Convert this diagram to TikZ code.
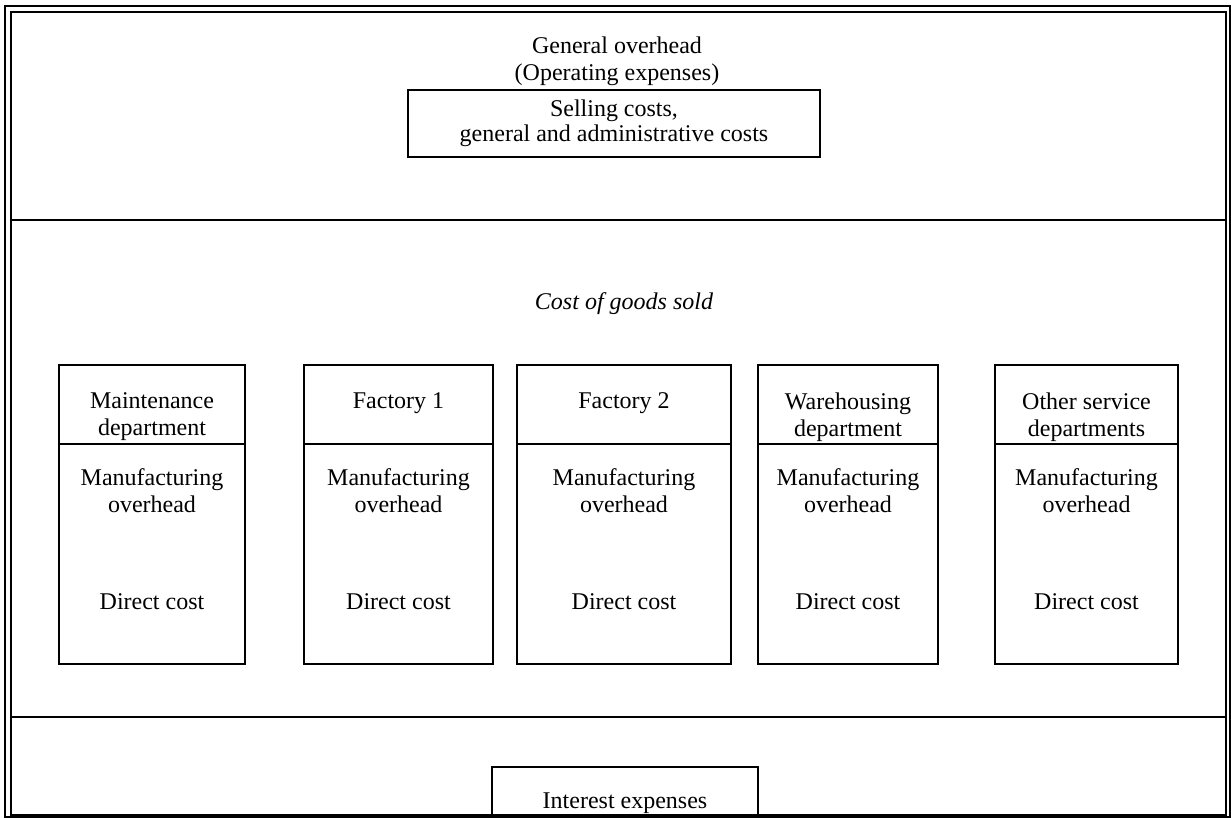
\documentclass[tikz,border=0pt]{standalone}
\usepackage{fontspec}
\setmainfont{Liberation Serif}
\usetikzlibrary{positioning,calc}
\tikzset{
  frame line/.style={line width=1pt},
  cost box/.style={
    draw,
    line width=0.9pt,
    inner sep=0pt,
    outer sep=0pt,
  },
  dept head/.style={cost box, anchor=north west, minimum height=39.5pt},
  dept body/.style={cost box, minimum height=110pt},
  box text/.style={
    align=center,
    inner sep=0pt,
    font=\fontsize{12}{13.5}\selectfont,
  },
}

\begin{document}
\begin{tikzpicture}[x=0.5pt,y=-0.5pt]
  \useasboundingbox (0,0) rectangle (1231,819);

  % double frame and the three bands
  \draw[line width=0.6pt] (5,6) rectangle (1230,817);
  \draw[frame line] (11,12) rectangle (1226,815);
  \coordinate (topw) at (11,220);
  \coordinate (tope) at (1226,220);
  \coordinate (botw) at (11,717);
  \coordinate (bote) at (1226,717);
  \draw[frame line] (topw) -- (tope);
  \draw[frame line] (botw) -- (bote);

  % general overhead
  \node[box text,anchor=north] (title) at (617,36) {General overhead\\(Operating expenses)};
  \node[cost box,box text,font=\fontsize{12}{12.5}\selectfont,minimum width=206pt,minimum height=33.5pt] (sga) at (614,123.5)
    {Selling costs,\\general and administrative costs};

  % cost of goods sold
  \node[box text,font=\fontsize{12}{13.5}\selectfont\itshape] (cogs) at (624,304) {Cost of goods sold};

  \node[dept head,minimum width=93pt] (hd1) at (59,365) {};
  \node[dept head,minimum width=94.5pt] (hd2) at (304,365) {};
  \node[dept head,minimum width=107pt] (hd3) at (517,365) {};
  \node[dept head,minimum width=90pt] (hd4) at (758,365) {};
  \node[dept head,minimum width=91.5pt] (hd5) at (995,365) {};

  \node[dept body,minimum width=93pt,below=0pt of hd1] (bd1) {};
  \node[dept body,minimum width=94.5pt,below=0pt of hd2] (bd2) {};
  \node[dept body,minimum width=107pt,below=0pt of hd3] (bd3) {};
  \node[dept body,minimum width=90pt,below=0pt of hd4] (bd4) {};
  \node[dept body,minimum width=91.5pt,below=0pt of hd5] (bd5) {};

  \node[box text,anchor=north] (ht1) at ($(hd1.north)+(0,27)$) {Maintenance\\department};
  \node[box text,anchor=north] (ht2) at ($(hd2.north)+(0,27)$) {Factory 1};
  \node[box text,anchor=north] (ht3) at ($(hd3.north)+(0,27)$) {Factory 2};
  \node[box text,anchor=north] (ht4) at ($(hd4.north)+(0,27)$) {Warehousing\\department};
  \node[box text,anchor=north] (ht5) at ($(hd5.north)+(0,27)$) {Other service\\departments};

  \node[box text,anchor=north] (mo1) at ($(bd1.north)+(0,24)$) {Manufacturing\\overhead};
  \node[box text,anchor=north] (mo2) at ($(bd2.north)+(0,24)$) {Manufacturing\\overhead};
  \node[box text,anchor=north] (mo3) at ($(bd3.north)+(0,24)$) {Manufacturing\\overhead};
  \node[box text,anchor=north] (mo4) at ($(bd4.north)+(0,24)$) {Manufacturing\\overhead};
  \node[box text,anchor=north] (mo5) at ($(bd5.north)+(0,24)$) {Manufacturing\\overhead};

  \node[box text,anchor=north] (dc1) at ($(bd1.north)+(0,149)$) {Direct cost};
  \node[box text,anchor=north] (dc2) at ($(bd2.north)+(0,149)$) {Direct cost};
  \node[box text,anchor=north] (dc3) at ($(bd3.north)+(0,149)$) {Direct cost};
  \node[box text,anchor=north] (dc4) at ($(bd4.north)+(0,149)$) {Direct cost};
  \node[box text,anchor=north] (dc5) at ($(bd5.north)+(0,149)$) {Direct cost};

  % interest
  \node[cost box,anchor=south,minimum width=133pt,minimum height=24pt] (intbox) at (625,815) {};
  \node[box text] (inttxt) at ($(intbox.south)+(0,-12)$) {Interest expenses};
\end{tikzpicture}
\end{document}
